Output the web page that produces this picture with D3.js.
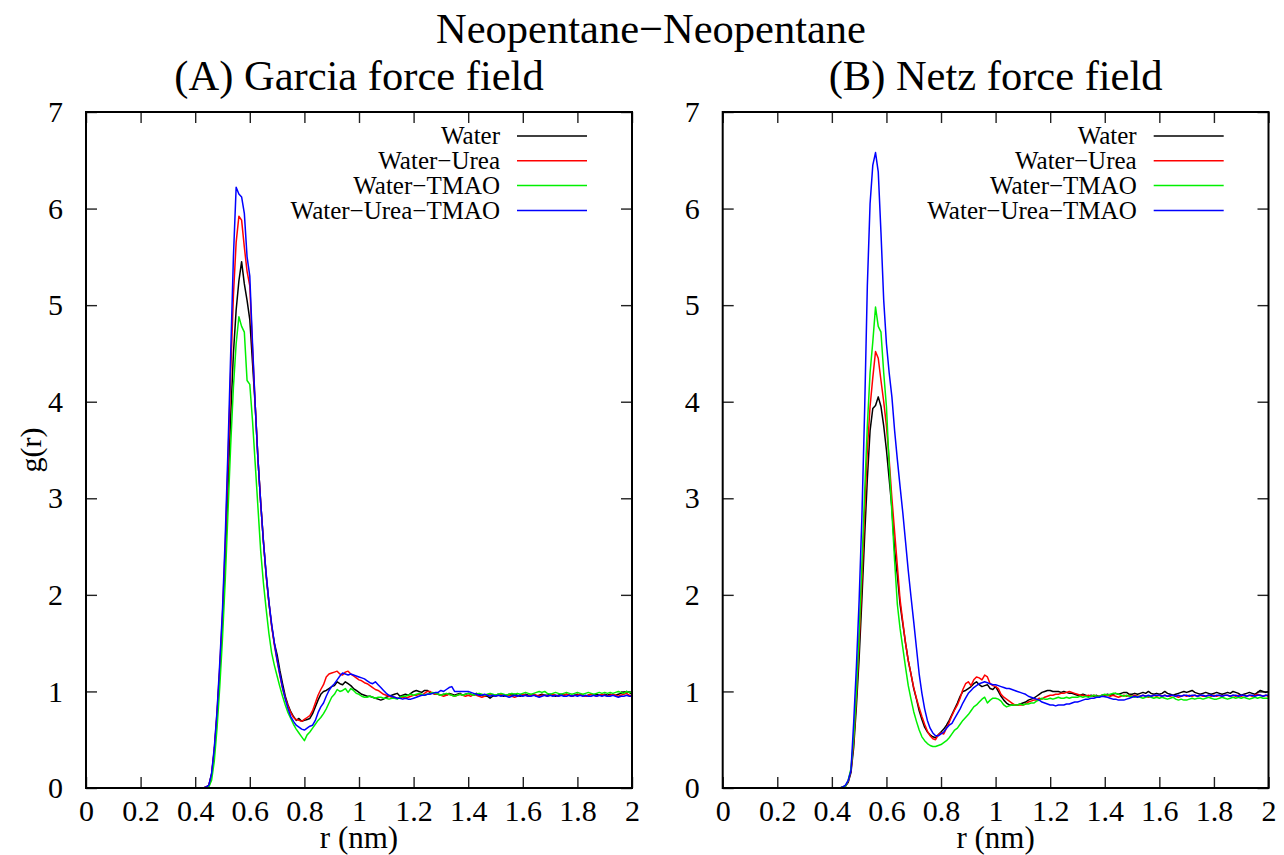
<!DOCTYPE html>
<html>
<head>
<meta charset="utf-8">
<script src="https://cdn.jsdelivr.net/npm/d3@7"></script>
<style>
  html, body { margin: 0; padding: 0; background: #fff; }
  svg text { font-family: "Liberation Serif", "DejaVu Serif", serif; fill: #000; }
</style>
</head>
<body>
<svg id="chart" width="1284" height="855"></svg>
<script>
// Radial distribution g(r) of neopentane pairs, bins of 0.01 nm starting at r = 0.40 nm
const rStart = 0.40;
const rStep = 0.01;

const seriesNames = ["Water", "Water\u2212Urea", "Water\u2212TMAO", "Water\u2212Urea\u2212TMAO"];
const seriesColors = ["#000000", "#ff0000", "#00f000", "#0000ff"];

const xTicks = [0, 0.2, 0.4, 0.6, 0.8, 1, 1.2, 1.4, 1.6, 1.8, 2];
const xTickLabels = ["0", "0.2", "0.4", "0.6", "0.8", "1", "1.2", "1.4", "1.6", "1.8", "2"];
const yTicks = [0, 1, 2, 3, 4, 5, 6, 7];
const yTickLabels = ["0", "1", "2", "3", "4", "5", "6", "7"];

const chartTitle = "Neopentane\u2212Neopentane";
const panelTitles = ["(A) Garcia force field", "(B) Netz force field"];
const xLabel = "r (nm)";
const yLabel = "g(r)";

// (A) Garcia force field
const garciaWater = [
  0, 0, 0, 0, 0.01, 0.03, 0.14, 0.38, 0.75, 1.20,
  1.72, 2.35, 3.10, 3.85, 4.50, 4.95, 5.25, 5.45, 5.22, 5.05,
  4.85, 4.40, 3.95, 3.40, 2.95, 2.55, 2.20, 1.92, 1.68, 1.50,
  1.38, 1.22, 1.08, 0.95, 0.86, 0.79, 0.74, 0.70, 0.72, 0.69,
  0.70, 0.71, 0.72, 0.77, 0.84, 0.91, 0.97, 1.00, 1.01, 1.03,
  1.05, 1.06, 1.10, 1.08, 1.07, 1.10, 1.08, 1.06, 1.03, 1.01,
  0.99, 0.97, 0.96, 0.95, 0.95, 0.94, 0.93, 0.92, 0.91, 0.92,
  0.94, 0.95, 0.96, 0.97, 0.98, 0.95, 0.96, 0.97, 0.96, 0.98,
  1.00, 1.01, 1.00, 0.99, 1.01, 1.01, 0.99, 0.98, 0.97, 0.97,
  0.96, 0.97, 0.96, 0.98, 0.97, 0.96, 0.97, 0.98, 0.96, 0.97,
  0.98, 0.97, 0.96, 0.98, 0.97, 0.96, 0.95, 0.95, 0.93, 0.95,
  0.96, 0.97, 0.96, 0.95, 0.96, 0.97, 0.96, 0.97, 0.96, 0.95,
  0.96, 0.97, 0.96, 0.96, 0.97, 0.95, 0.96, 0.97, 0.96, 0.96,
  0.97, 0.96, 0.95, 0.96, 0.97, 0.96, 0.97, 0.96, 0.95, 0.96,
  0.97, 0.96, 0.96, 0.95, 0.96, 0.97, 0.96, 0.97, 0.96, 0.96,
  0.97, 0.96, 0.97, 0.96, 0.96, 0.97, 0.98, 0.99, 1.00, 0.99,
  0.97
];
const garciaUrea = [
  0, 0, 0, 0, 0.01, 0.03, 0.14, 0.40, 0.78, 1.25,
  1.80, 2.50, 3.35, 4.30, 5.10, 5.65, 5.92, 5.88, 5.60, 5.35,
  5.20, 4.55, 3.95, 3.40, 2.95, 2.55, 2.20, 1.92, 1.68, 1.48,
  1.32, 1.17, 1.03, 0.93, 0.85, 0.78, 0.73, 0.71, 0.70, 0.69,
  0.71, 0.73, 0.75, 0.80, 0.88, 0.96, 1.02, 1.07, 1.15, 1.18,
  1.19, 1.20, 1.21, 1.18, 1.17, 1.20, 1.21, 1.18, 1.16, 1.14,
  1.12, 1.11, 1.09, 1.08, 1.06, 1.04, 1.02, 1.01, 0.99, 0.97,
  0.96, 0.95, 0.94, 0.94, 0.93, 0.93, 0.94, 0.93, 0.94, 0.95,
  0.96, 0.96, 0.97, 0.96, 0.98, 1.00, 1.00, 0.98, 0.97, 0.97,
  0.96, 0.95, 0.96, 0.97, 0.96, 0.95, 0.96, 0.97, 0.96, 0.95,
  0.96, 0.95, 0.97, 0.96, 0.95, 0.94, 0.95, 0.96, 0.97, 0.96,
  0.95, 0.96, 0.97, 0.96, 0.95, 0.96, 0.95, 0.94, 0.95, 0.96,
  0.97, 0.96, 0.95, 0.96, 0.97, 0.96, 0.95, 0.96, 0.96, 0.95,
  0.96, 0.97, 0.96, 0.95, 0.96, 0.96, 0.97, 0.96, 0.95, 0.96,
  0.96, 0.97, 0.96, 0.95, 0.96, 0.97, 0.96, 0.95, 0.96, 0.97,
  0.96, 0.95, 0.96, 0.97, 0.96, 0.95, 0.96, 0.97, 0.98, 0.96,
  0.95
];
const garciaTmao = [
  0, 0, 0, 0, 0, 0.01, 0.08, 0.28, 0.62, 1.05,
  1.55, 2.15, 2.85, 3.55, 4.15, 4.60, 4.88, 4.78, 4.72, 4.22,
  4.18, 3.80, 3.35, 2.90, 2.45, 2.12, 1.85, 1.60, 1.40, 1.27,
  1.16, 1.05, 0.95, 0.86, 0.78, 0.72, 0.66, 0.61, 0.57, 0.53,
  0.49, 0.55, 0.58, 0.62, 0.66, 0.70, 0.73, 0.77, 0.82, 0.88,
  0.94, 0.97, 1.02, 1.00, 1.01, 1.03, 0.99, 1.03, 1.01, 0.98,
  0.97, 0.95, 0.94, 0.94, 0.95, 0.94, 0.93, 0.94, 0.94, 0.93,
  0.93, 0.92, 0.93, 0.93, 0.92, 0.94, 0.95, 0.95, 0.96, 0.97,
  0.96, 0.97, 0.98, 0.97, 0.96, 0.97, 0.98, 0.99, 0.98, 0.97,
  0.96, 0.97, 0.98, 0.97, 0.96, 0.95, 0.96, 0.97, 0.96, 0.97,
  0.98, 0.97, 0.96, 0.97, 0.98, 0.97, 0.96, 0.97, 0.98, 0.97,
  0.96, 0.97, 0.98, 0.97, 0.96, 0.97, 0.98, 0.97, 0.98, 0.97,
  0.98, 0.99, 0.98, 0.97, 0.98, 0.99, 1.00, 0.99, 1.00, 0.98,
  0.97, 0.98, 0.99, 0.98, 0.97, 0.98, 0.99, 0.98, 0.97, 0.98,
  0.99, 0.98, 0.97, 0.98, 0.99, 0.98, 0.97, 0.98, 0.99, 0.98,
  0.99, 0.98, 0.99, 0.98, 0.99, 1.00, 0.99, 0.98, 1.00, 0.99,
  0.99
];
const garciaUreaTmao = [
  0, 0, 0, 0, 0.01, 0.03, 0.15, 0.42, 0.80, 1.30,
  1.85, 2.60, 3.50, 4.50, 5.50, 6.22, 6.15, 6.12, 5.95, 5.50,
  5.30, 4.60, 3.95, 3.40, 2.95, 2.55, 2.22, 1.93, 1.70, 1.50,
  1.33, 1.18, 1.04, 0.92, 0.82, 0.74, 0.69, 0.65, 0.63, 0.61,
  0.60, 0.62, 0.64, 0.65, 0.70, 0.78, 0.84, 0.88, 0.95, 1.01,
  1.05, 1.08, 1.12, 1.16, 1.19, 1.18, 1.17, 1.18, 1.17, 1.16,
  1.15, 1.14, 1.13, 1.11, 1.09, 1.08, 1.10, 1.07, 1.04, 1.01,
  0.98, 0.96, 0.95, 0.94, 0.93, 0.93, 0.92, 0.93, 0.92, 0.92,
  0.93, 0.94, 0.95, 0.96, 0.96, 0.97, 0.97, 0.98, 0.99, 0.99,
  1.01, 1.00, 1.02, 1.04, 1.05, 1.00, 1.00, 1.00, 1.00, 1.00,
  1.00, 0.99, 0.98, 0.97, 0.96, 0.96, 0.97, 0.96, 0.95, 0.96,
  0.95, 0.96, 0.95, 0.96, 0.95, 0.94, 0.95, 0.96, 0.95, 0.96,
  0.95, 0.96, 0.95, 0.95, 0.96, 0.95, 0.94, 0.95, 0.96, 0.95,
  0.96, 0.95, 0.96, 0.95, 0.96, 0.95, 0.95, 0.96, 0.95, 0.96,
  0.95, 0.96, 0.95, 0.96, 0.95, 0.95, 0.96, 0.95, 0.96, 0.95,
  0.96, 0.95, 0.95, 0.96, 0.95, 0.94, 0.95, 0.95, 0.96, 0.95,
  0.95
];

// (B) Netz force field
const netzWater = [
  0, 0, 0, 0, 0.01, 0.02, 0.06, 0.16, 0.42, 0.85,
  1.35, 1.95, 2.60, 3.20, 3.70, 3.93, 3.96, 4.05, 3.95, 3.75,
  3.50, 3.20, 2.90, 2.46, 2.20, 1.90, 1.70, 1.50, 1.32, 1.18,
  1.03, 0.92, 0.80, 0.71, 0.63, 0.58, 0.55, 0.53, 0.52, 0.55,
  0.58, 0.61, 0.65, 0.70, 0.76, 0.82, 0.88, 0.95, 1.00, 1.01,
  1.03, 1.05, 1.08, 1.10, 1.07, 1.05, 1.06, 1.07, 1.03, 1.02,
  1.05, 1.00, 0.95, 0.91, 0.88, 0.86, 0.86, 0.86, 0.86, 0.87,
  0.88, 0.89, 0.91, 0.92, 0.93, 0.95, 0.97, 0.99, 1.00, 1.01,
  1.01, 1.00, 1.00, 1.00, 0.99, 1.00, 0.99, 0.98, 0.98, 0.97,
  0.96, 0.96, 0.97, 0.96, 0.95, 0.96, 0.95, 0.96, 0.945, 0.96,
  0.96, 0.97, 0.96, 0.97, 0.98, 0.97, 0.98, 0.99, 0.99, 0.97,
  0.97, 0.98, 0.97, 0.98, 0.99, 0.98, 1.00, 0.98, 0.97, 0.98,
  0.97, 0.98, 1.00, 0.98, 0.97, 0.96, 0.97, 0.98, 0.99, 1.00,
  0.99, 1.00, 1.01, 0.99, 0.98, 0.97, 0.98, 0.99, 0.98, 0.97,
  0.98, 0.99, 0.98, 0.97, 0.98, 0.99, 0.98, 1.00, 0.99, 0.98,
  0.96, 0.97, 0.98, 0.99, 0.98, 0.97, 0.99, 1.01, 1.00, 0.99,
  1.00
];
const netzUrea = [
  0, 0, 0, 0, 0.01, 0.02, 0.07, 0.18, 0.48, 0.95,
  1.50, 2.15, 2.85, 3.50, 3.95, 4.25, 4.52, 4.45, 4.22, 4.00,
  3.75, 3.40, 3.00, 2.65, 2.30, 1.95, 1.72, 1.50, 1.32, 1.18,
  1.04, 0.93, 0.83, 0.74, 0.66, 0.59, 0.54, 0.51, 0.50, 0.55,
  0.57, 0.56, 0.62, 0.68, 0.75, 0.81, 0.86, 0.93, 1.02, 1.08,
  1.10, 1.06, 1.12, 1.15, 1.14, 1.12, 1.17, 1.15, 1.08, 1.06,
  1.05, 1.03, 0.97, 0.94, 0.92, 0.90, 0.88, 0.86, 0.86, 0.86,
  0.86, 0.87, 0.89, 0.90, 0.91, 0.91, 0.93, 0.92, 0.94, 0.95,
  0.96, 0.96, 0.97, 0.97, 0.98, 0.98, 0.99, 1.00, 0.99, 0.98,
  0.97, 0.96, 0.96, 0.95, 0.96, 0.95, 0.96, 0.95, 0.95, 0.96,
  0.95, 0.96, 0.95, 0.96, 0.95, 0.94, 0.95, 0.96, 0.95, 0.96,
  0.95, 0.96, 0.95, 0.95, 0.96, 0.95, 0.94, 0.95, 0.96, 0.95,
  0.96, 0.95, 0.96, 0.95, 0.95, 0.96, 0.95, 0.94, 0.95, 0.96,
  0.95, 0.96, 0.95, 0.96, 0.95, 0.96, 0.95, 0.95, 0.96, 0.95,
  0.96, 0.95, 0.96, 0.95, 0.96, 0.96, 0.95, 0.96, 0.95, 0.96,
  0.95, 0.96, 0.95, 0.96, 0.95, 0.96, 0.97, 0.96, 0.95, 0.96,
  0.95
];
const netzTmao = [
  0, 0, 0, 0, 0.01, 0.02, 0.08, 0.20, 0.52, 1.00,
  1.60, 2.30, 3.05, 3.75, 4.30, 4.62, 4.98, 4.78, 4.72, 4.30,
  3.95, 3.35, 2.85, 2.35, 1.90, 1.65, 1.45, 1.25, 1.06, 0.92,
  0.79, 0.69, 0.60, 0.53, 0.49, 0.46, 0.44, 0.43, 0.43, 0.44,
  0.45, 0.47, 0.49, 0.52, 0.56, 0.60, 0.62, 0.66, 0.70, 0.73,
  0.76, 0.80, 0.84, 0.86, 0.89, 0.92, 0.94, 0.88, 0.91, 0.93,
  0.93, 0.92, 0.90, 0.86, 0.84, 0.85, 0.86, 0.86, 0.86, 0.87,
  0.86, 0.87, 0.87, 0.88, 0.88, 0.90, 0.91, 0.93, 0.92, 0.92,
  0.93, 0.92, 0.93, 0.94, 0.93, 0.93, 0.94, 0.93, 0.94, 0.94,
  0.94, 0.95, 0.94, 0.95, 0.94, 0.95, 0.96, 0.95, 0.95, 0.96,
  0.97, 0.96, 0.97, 0.98, 0.98, 0.97, 0.96, 0.95, 0.96, 0.95,
  0.95, 0.94, 0.95, 0.94, 0.93, 0.94, 0.95, 0.94, 0.93, 0.94,
  0.93, 0.94, 0.93, 0.92, 0.93, 0.94, 0.92, 0.91, 0.92, 0.91,
  0.91, 0.92, 0.93, 0.92, 0.93, 0.93, 0.92, 0.93, 0.94, 0.93,
  0.92, 0.92, 0.93, 0.94, 0.93, 0.92, 0.93, 0.94, 0.93, 0.94,
  0.93, 0.94, 0.93, 0.92, 0.93, 0.94, 0.93, 0.94, 0.93, 0.93,
  0.93
];
const netzUreaTmao = [
  0, 0, 0, 0, 0.01, 0.03, 0.08, 0.18, 0.68, 1.26,
  1.95, 2.80, 3.90, 5.20, 6.05, 6.45, 6.58, 6.38, 5.75, 5.05,
  4.60, 4.30, 4.05, 3.70, 3.40, 3.12, 2.85, 2.55, 2.25, 1.98,
  1.72, 1.45, 1.18, 0.98, 0.82, 0.70, 0.62, 0.57, 0.54, 0.54,
  0.56, 0.58, 0.62, 0.65, 0.67, 0.72, 0.77, 0.82, 0.88, 0.93,
  0.98, 1.01, 1.04, 1.06, 1.08, 1.09, 1.10, 1.09, 1.08, 1.07,
  1.07, 1.06, 1.05, 1.04, 1.03, 1.03, 1.02, 1.01, 1.00, 0.99,
  0.98, 0.97, 0.95, 0.94, 0.93, 0.92, 0.91, 0.89, 0.88, 0.87,
  0.86, 0.86, 0.85, 0.86, 0.86, 0.86, 0.87, 0.87, 0.88, 0.89,
  0.89, 0.90, 0.91, 0.92, 0.92, 0.93, 0.93, 0.94, 0.94, 0.95,
  0.945, 0.94, 0.93, 0.92, 0.92, 0.91, 0.91, 0.91, 0.92, 0.93,
  0.94, 0.95, 0.94, 0.95, 0.96, 0.95, 0.96, 0.95, 0.96, 0.96,
  0.96, 0.95, 0.96, 0.95, 0.96, 0.96, 0.95, 0.96, 0.95, 0.96,
  0.96, 0.95, 0.96, 0.96, 0.95, 0.96, 0.96, 0.95, 0.96, 0.96,
  0.95, 0.96, 0.96, 0.95, 0.96, 0.96, 0.95, 0.96, 0.96, 0.95,
  0.96, 0.96, 0.95, 0.96, 0.96, 0.95, 0.96, 0.96, 0.95, 0.96,
  0.96
];

const rValues = d3.range(garciaWater.length).map(i => +(rStart + i * rStep).toFixed(2));

const panels = [
  { title: panelTitles[0], series: [garciaWater, garciaUrea, garciaTmao, garciaUreaTmao], left: 86, right: 632 },
  { title: panelTitles[1], series: [netzWater, netzUrea, netzTmao, netzUreaTmao], left: 722.7, right: 1268.5 }
];
const plotTop = 112, plotBottom = 788;
const tickLen = 11;
const fontFamily = '"Liberation Serif", "DejaVu Serif", serif';

const svg = d3.select("#chart");

svg.append("text")
  .attr("x", 651).attr("y", 43)
  .attr("text-anchor", "middle")
  .attr("font-size", 42.5)
  .text(chartTitle);

panels.forEach((p, pi) => {
  const x = d3.scaleLinear().domain([0, 2]).range([p.left, p.right]);
  const y = d3.scaleLinear().domain([0, 7]).range([plotBottom, plotTop]);
  const g = svg.append("g");

  // panel heading
  g.append("text")
    .attr("x", (p.left + p.right) / 2).attr("y", 90)
    .attr("text-anchor", "middle")
    .attr("font-size", 42.5)
    .text(p.title);

  // ticks on all four sides, pointing inward
  const styleAxis = sel => {
    sel.select(".domain").remove();
    sel.selectAll(".tick line").attr("stroke", "#222").attr("stroke-width", 1.4);
    sel.attr("font-family", fontFamily).attr("font-size", 30);
    sel.selectAll(".tick text").attr("fill", "#000");
  };
  g.append("g").attr("transform", `translate(0,${plotBottom})`)
    .call(d3.axisBottom(x).tickValues(xTicks).tickFormat((d, i) => xTickLabels[i]).tickSize(-tickLen).tickPadding(12))
    .call(styleAxis);
  g.append("g").attr("transform", `translate(0,${plotTop})`)
    .call(d3.axisTop(x).tickValues(xTicks).tickFormat("").tickSize(-tickLen))
    .call(styleAxis);
  g.append("g").attr("transform", `translate(${p.left},0)`)
    .call(d3.axisLeft(y).tickValues(yTicks).tickFormat((d, i) => yTickLabels[i]).tickSize(-tickLen).tickPadding(23))
    .call(styleAxis);
  g.append("g").attr("transform", `translate(${p.right},0)`)
    .call(d3.axisRight(y).tickValues(yTicks).tickFormat("").tickSize(-tickLen))
    .call(styleAxis);

  // g(r) curves
  const line = d3.line()
    .x((d, i) => x(rValues[i]))
    .y(d => y(d));
  p.series.forEach((s, k) => {
    g.append("path")
      .datum(s)
      .attr("d", line)
      .attr("fill", "none")
      .attr("stroke", seriesColors[k])
      .attr("stroke-width", 1.5)
      .attr("stroke-linejoin", "round");
  });

  // border box
  g.append("rect")
    .attr("x", p.left).attr("y", plotTop)
    .attr("width", p.right - p.left).attr("height", plotBottom - plotTop)
    .attr("fill", "none").attr("stroke", "#000").attr("stroke-width", 2);

  // legend
  const legend = g.append("g");
  seriesNames.forEach((name, k) => {
    const ly = 136 + 24.8 * k;
    legend.append("text")
      .attr("x", p.left + 414).attr("y", ly)
      .attr("dy", "0.33em")
      .attr("text-anchor", "end")
      .attr("font-size", 25)
      .text(name);
    legend.append("line")
      .attr("x1", p.left + 431).attr("x2", p.left + 501)
      .attr("y1", ly).attr("y2", ly)
      .attr("stroke", seriesColors[k]).attr("stroke-width", 1.5);
  });

  // axis title
  g.append("text")
    .attr("x", (p.left + p.right) / 2).attr("y", 848)
    .attr("text-anchor", "middle")
    .attr("font-size", 31)
    .text(xLabel);
});

svg.append("text")
  .attr("transform", "translate(41,450) rotate(-90)")
  .attr("text-anchor", "middle")
  .attr("font-size", 30)
  .text(yLabel);
</script>
</body>
</html>
